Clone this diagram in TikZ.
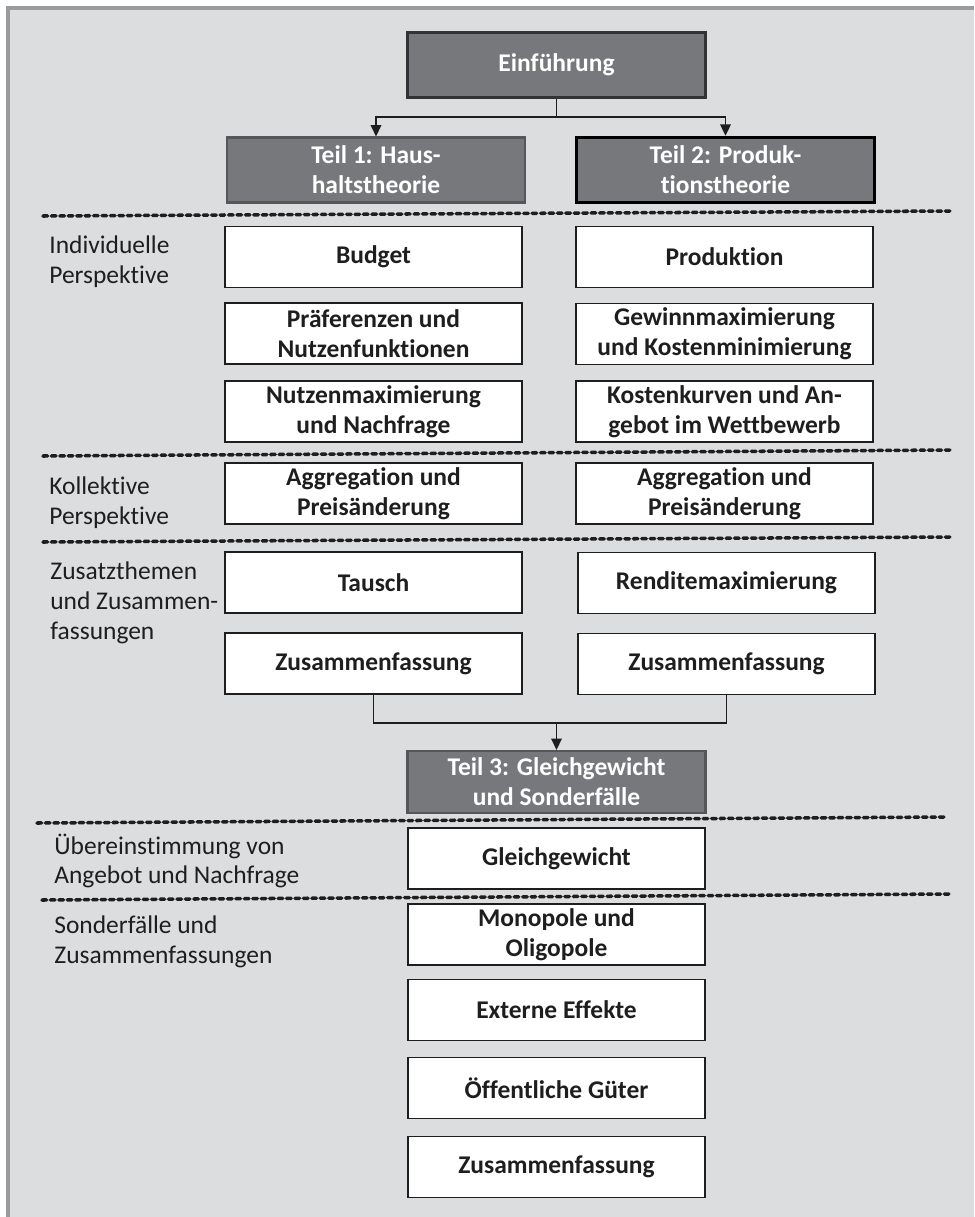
\documentclass[tikz,border=0pt]{standalone}
\usepackage{fontspec}
\setmainfont[Ligatures=NoCommon]{Carlito}
\usetikzlibrary{arrows.meta}
\definecolor{bggray}{HTML}{DCDDDF}
\definecolor{framegray}{HTML}{9A9B9D}
\definecolor{partgray}{HTML}{77787B}
\definecolor{edgegray}{HTML}{555658}
\definecolor{inkgray}{HTML}{1E1E1E}
\begin{document}
\begin{tikzpicture}[x=0.02cm,y=-0.02cm,part/.style={draw=edgegray,line width=1.2pt,fill=partgray,text=white,font=\bfseries\fontsize{14.5}{17}\selectfont,align=center,minimum width=5.96cm,minimum height=1.3cm,inner sep=0pt},topic/.style={draw=inkgray,line width=1.1pt,fill=white,text=inkgray,font=\bfseries\fontsize{14.5}{17}\selectfont,align=center,minimum width=5.94cm,minimum height=1.22cm,inner sep=0pt},sect/.style={anchor=west,align=left,inner sep=0pt,text=inkgray,font=\fontsize{14.5}{17}\selectfont},sep/.style={inkgray,line width=2pt,dash pattern=on 2.6pt off 2.2pt,line cap=round},link/.style={inkgray,line width=1.1pt},linkarr/.style={link,-{Triangle[width=6pt,length=6.5pt]}}]
\def\xl{373.5};
\def\xr{724.5};
\def\xm{556.5};

\useasboundingbox (0,0) rectangle (974,1217);
\fill[white] (0,0) rectangle (974,1217);
\fill[bggray] (8,8) rectangle (974,1217);
\draw[framegray,line width=1.8pt] (8,1217) -- (8,8) -- (974,8);

\node[part,draw=black!80,line width=1.5pt] (einf) at (\xm,65) {Einführung};

\node[part] (teilA) at (376,170) {Teil 1: Haus-\\haltstheorie};
\node[part,draw=black,line width=2pt] (teilB) at (725.5,170) {Teil 2: Produk-\\tionstheorie};
\coordinate (split) at (\xm,117);
\draw[link] (einf.south) -- (split);
\draw[linkarr] (split) -| (teilA.north);
\draw[linkarr] (split) -| (teilB.north);

\draw[sep] (43,216) -- (951,211);
\node[sect] (indiv) at (49,262) {Individuelle\\Perspektive};
\node[topic] (budget) at (\xl,257) {Budget};
\node[topic] (praef) at (\xl,333.5) {Präferenzen und\\Nutzenfunktionen};
\node[topic] (nutzmax) at (\xl,411.5) {Nutzenmaximierung\\und Nachfrage};
\node[topic] (prod) at (\xr,257) {Produktion};
\node[topic] (gewinn) at (\xr,334) {Gewinnmaximierung\\und Kostenminimierung};
\node[topic] (kosten) at (\xr,411.5) {Kostenkurven und An-\\gebot im Wettbewerb};

\draw[sep] (43,456) -- (951,450);
\node[sect] (koll) at (49,503) {Kollektive\\Perspektive};
\node[topic] (aggA) at (\xl,493.5) {Aggregation und\\Preisänderung};
\node[topic] (aggB) at (\xr,493.5) {Aggregation und\\Preisänderung};

\draw[sep] (43,542) -- (951,537);
\node[sect] (zusatz) at (50,603) {Zusatzthemen\\und Zusammen-\\fassungen};
\node[topic] (tausch) at (\xl,582.5) {Tausch};
\node[topic] (zusA) at (\xl,663.5) {Zusammenfassung};
\node[topic] (rendite) at (\xr+2,583) {Renditemaximierung};
\node[topic] (zusB) at (\xr+2,664) {Zusammenfassung};

\node[part,minimum height=1.24cm] (teilC) at (\xm,782) {Teil 3: Gleichgewicht\\und Sonderfälle};
\coordinate (merge) at (\xm,723);
\draw[link] (zusA.south) |- (merge) -| (zusB.south);
\draw[linkarr] (merge) -- (teilC.north);

\draw[sep] (37,823) -- (946,817);
\node[sect] (uebereinst) at (54,861) {Übereinstimmung von\\Angebot und Nachfrage};
\node[topic] (gleichgew) at (\xm,858.5) {Gleichgewicht};

\draw[sep] (42,900) -- (949,894);
\node[sect] (sonder) at (54,942) {Sonderfälle und\\Zusammenfassungen};
\node[topic] (mono) at (\xm,934.5) {Monopole und\\Oligopole};
\node[topic] (extern) at (\xm,1010) {Externe Effekte};
\node[topic] (oeffgut) at (\xm,1088) {Öffentliche Güter};
\node[topic] (zusC) at (\xm,1167) {Zusammenfassung};
\end{tikzpicture}
\end{document}
